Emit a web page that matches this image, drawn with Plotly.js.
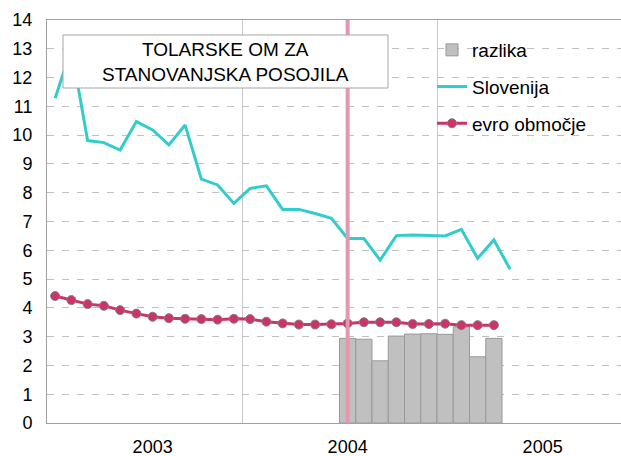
<!DOCTYPE html>
<html><head><meta charset="utf-8">
<script src="https://cdn.plot.ly/plotly-3.0.1.min.js"></script>
<style>html,body{margin:0;padding:0;overflow:hidden;background:#fff}#chart{width:640px;height:456px}</style>
</head><body><div id="chart"></div>
<script>
// ---- data ----
const yearLabels = ['2003', '2004', '2005'];
const yearLabelMonth = [6, 18, 30];
const yearBoundaries = [11.5, 23.5, 35.5];
const slovenija = [11.28, 13.0, 9.81, 9.74, 9.48, 10.47, 10.18, 9.66, 10.35, 8.47, 8.27, 7.63,
                   8.15, 8.24, 7.42, 7.42, 7.28, 7.11, 6.41, 6.41, 5.66, 6.51, 6.53, 6.52,
                   6.50, 6.73, 5.72, 6.36, 5.34];
const evro = [4.41, 4.27, 4.13, 4.07, 3.92, 3.80, 3.69, 3.64, 3.62, 3.61, 3.59, 3.62,
              3.61, 3.52, 3.46, 3.42, 3.42, 3.43, 3.46, 3.50, 3.50, 3.50, 3.44, 3.44,
              3.45, 3.40, 3.40, 3.40];
const razlika = [2.94, 2.91, 2.16, 3.02, 3.09, 3.10, 3.08, 3.34, 2.30, 2.94];
const razlikaStart = 18;
const markerMonth = 18;
const titleLines = ['TOLARSKE OM ZA', 'STANOVANJSKA POSOJILA'];
const seriesNames = ['razlika', 'Slovenija', 'evro območje'];

// ---- geometry helpers (plot area in pixels) ----
const W = 640, H = 456;
const M = {l: 47, r: 8, t: 20, b: 33};
const pw = W - M.l - M.r, ph = H - M.t - M.b;
const px = x => (x - M.l) / pw;
const py = y => (H - M.b - y) / ph;

const idx = a => a.map((_, i) => i);

const traces = [
  {type: 'bar', name: seriesNames[0], legendgroup: 'a',
   x: razlika.map((_, i) => i + razlikaStart), y: razlika,
   width: 1,
   marker: {color: '#c0c0c0', line: {color: '#999999', width: 1}}},
  {type: 'scatter', mode: 'lines', name: seriesNames[1], legendgroup: 'b',
   x: idx(slovenija), y: slovenija,
   line: {color: '#33cccc', width: 3}},
  {type: 'scatter', mode: 'lines+markers', name: seriesNames[2], legendgroup: 'c',
   x: idx(evro), y: evro,
   line: {color: '#cc3366', width: 3},
   marker: {color: '#cc3366', size: 9, line: {color: '#808080', width: 1}}}
];

const layout = {
  width: W, height: H, margin: M,
  paper_bgcolor: '#fff', plot_bgcolor: '#fff',
  font: {family: '"Liberation Sans", Arial, sans-serif', color: '#000', size: 18},
  bargap: 0,
  showlegend: true,
  legend: {x: px(432), y: py(31), xanchor: 'left', yanchor: 'top',
           bgcolor: 'rgba(0,0,0,0)', font: {size: 19},
           traceorder: 'grouped', tracegroupgap: 9},
  xaxis: {range: [-0.5, 35.5], tickmode: 'array', tickvals: yearLabelMonth, ticktext: yearLabels,
          showgrid: false, zeroline: false, ticks: '',
          showline: true, linecolor: '#a0a0a0', linewidth: 1, mirror: true,
          ticklabelstandoff: 7,
          minor: {tickmode: 'array', tickvals: yearBoundaries, showgrid: true,
                  gridcolor: '#c8c8c8', gridwidth: 1, ticks: ''},
          fixedrange: true},
  yaxis: {range: [0, 14], dtick: 1, tick0: 0, showgrid: true, gridcolor: '#c0c0c0', gridwidth: 1,
          griddash: '7px,8px', zeroline: false, ticks: '',
          showline: true, linecolor: '#a0a0a0', linewidth: 1, mirror: true,
          ticklabelstandoff: 10, fixedrange: true},
  shapes: [
    {type: 'rect', xref: 'paper', yref: 'paper', layer: 'between',
     x0: px(410), x1: px(615), y0: py(143), y1: py(30),
     fillcolor: '#fff', line: {width: 0}},
    {type: 'line', xref: 'x', yref: 'paper', layer: 'above',
     x0: markerMonth, x1: markerMonth, y0: 0, y1: 1,
     line: {color: '#e497ad', width: 4}},
    {type: 'rect', xref: 'paper', yref: 'paper', layer: 'above',
     x0: px(63), x1: px(388), y0: py(88), y1: py(35),
     fillcolor: '#fff', line: {color: '#a6a6a6', width: 1}}
  ],
  annotations: [
    {xref: 'paper', yref: 'paper', x: px(225.5), y: py(61.5), xanchor: 'center', yanchor: 'middle',
     showarrow: false,
     text: titleLines.join('<br>'), align: 'center', font: {size: 19, color: '#000'}}
  ]
};

Plotly.newPlot('chart', traces, layout, {staticPlot: true, displayModeBar: false});
</script>
</body></html>
